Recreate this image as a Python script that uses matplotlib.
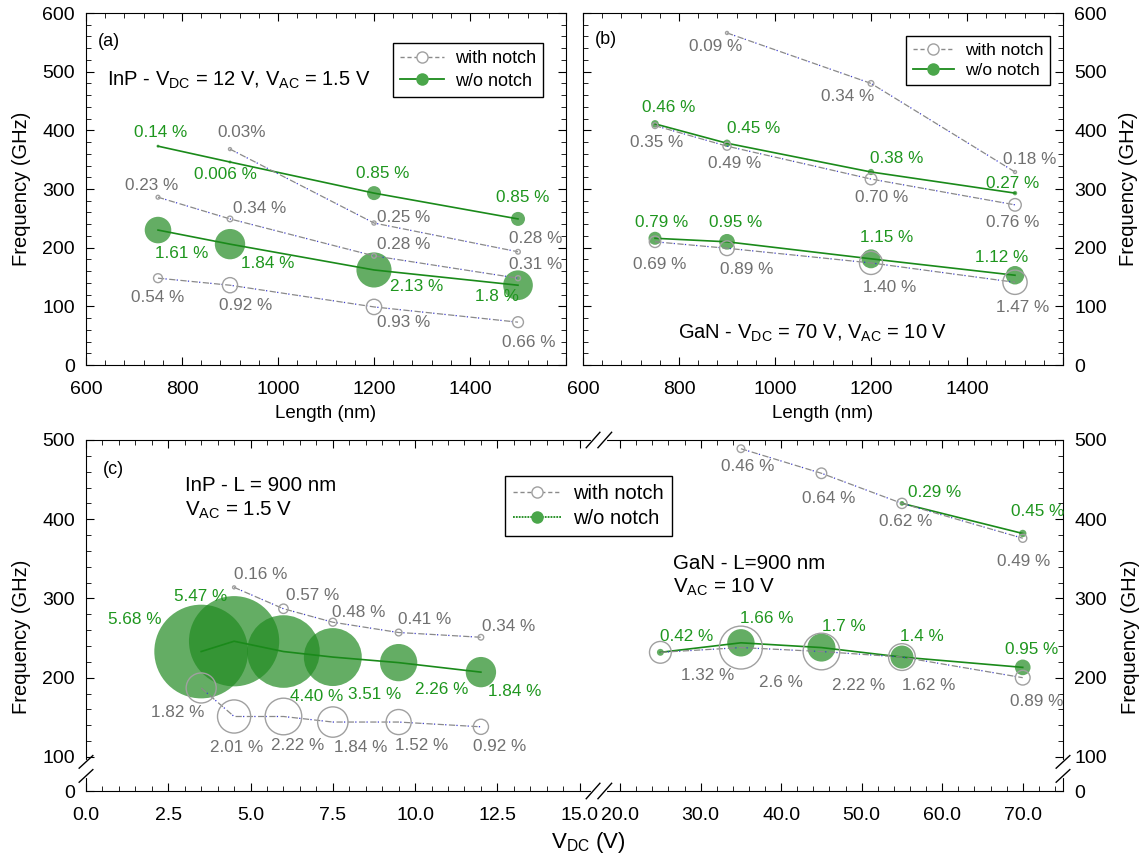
import numpy as np
import matplotlib
matplotlib.use("Agg")
import matplotlib.pyplot as plt
from matplotlib.lines import Line2D

plt.rcParams['font.family'] = 'Liberation Sans'
plt.rcParams['mathtext.fontset'] = 'custom'
plt.rcParams['mathtext.rm'] = 'Liberation Sans'
plt.rcParams['mathtext.it'] = 'Liberation Sans:italic'
plt.rcParams['mathtext.bf'] = 'Liberation Sans:bold'

# =====================================================
# Data: (a) InP, V_DC = 12 V, V_AC = 1.5 V
# =====================================================
a_n1_len = [900, 1200, 1500]
a_n1_f = [368, 242, 193]
a_n1_lbl = ["0.03%", "0.25 %", "0.28 %"]
a_n2_len = [750, 900, 1200, 1500]
a_n2_f = [286, 249, 186, 148]
a_n2_lbl = ["0.23 %", "0.34 %", "0.28 %", "0.31 %"]
a_n3_len = [750, 900, 1200, 1500]
a_n3_f = [148, 136, 99, 73]
a_n3_lbl = ["0.54 %", "0.92 %", "0.93 %", "0.66 %"]
a_p1_len = [750, 900, 1200, 1500]
a_p1_f = [373, 346, 293, 249]
a_p1_lbl = ["0.14 %", "0.006 %", "0.85 %", "0.85 %"]
a_p2_len = [750, 900, 1200, 1500]
a_p2_f = [230, 206, 162, 136]
a_p2_lbl = ["1.61 %", "1.84 %", "2.13 %", "1.8 %"]

# =====================================================
# Data: (b) GaN, V_DC = 70 V, V_AC = 10 V
# =====================================================
b_n1_len = [900, 1200, 1500]
b_n1_f = [566, 480, 329]
b_n1_lbl = ["0.09 %", "0.34 %", "0.18 %"]
b_n2_len = [750, 900, 1200, 1500]
b_n2_f = [408, 373, 317, 273]
b_n2_lbl = ["0.35 %", "0.49 %", "0.70 %", "0.76 %"]
b_n3_len = [750, 900, 1200, 1500]
b_n3_f = [210, 199, 174, 141]
b_n3_lbl = ["0.69 %", "0.89 %", "1.40 %", "1.47 %"]
b_p1_len = [750, 900, 1200, 1500]
b_p1_f = [411, 378, 329, 293]
b_p1_lbl = ["0.46 %", "0.45 %", "0.38 %", "0.27 %"]
b_p2_len = [750, 900, 1200, 1500]
b_p2_f = [216, 210, 181, 153]
b_p2_lbl = ["0.79 %", "0.95 %", "1.15 %", "1.12 %"]

# =====================================================
# Data: (c) frequency vs V_DC
# =====================================================
c_inp_n1_v = [4.5, 6, 7.5, 9.5, 12]
c_inp_n1_f = [314, 287, 270, 257, 251]
c_inp_n1_lbl = ["0.16 %", "0.57 %", "0.48 %", "0.41 %", "0.34 %"]
c_inp_n2_v = [3.5, 4.5, 6, 7.5, 9.5, 12]
c_inp_n2_f = [187, 151, 151, 144, 144, 138]
c_inp_n2_lbl = ["1.82 %", "2.01 %", "2.22 %", "1.84 %", "1.52 %", "0.92 %"]
c_inp_p_v = [3.5, 4.5, 6, 7.5, 9.5, 12]
c_inp_p_f = [233, 246, 233, 226, 219, 207]
c_inp_p_lbl = ["5.68 %", "5.47 %", "4.40 %", "3.51 %", "2.26 %", "1.84 %"]

c_gan_n1_v = [35, 45, 55, 70]
c_gan_n1_f = [489, 458, 420, 376]
c_gan_n1_lbl = ["0.46 %", "0.64 %", "0.62 %", "0.49 %"]
c_gan_p1_v = [55, 70]
c_gan_p1_f = [420, 382]
c_gan_p1_lbl = ["0.29 %", "0.45 %"]
c_gan_n2_v = [25, 35, 45, 55, 70]
c_gan_n2_f = [232, 238, 233, 226, 200]
c_gan_n2_lbl = ["1.32 %", "2.6 %", "2.22 %", "1.62 %", "0.89 %"]
c_gan_p2_v = [25, 35, 45, 55, 70]
c_gan_p2_f = [232, 244, 238, 226, 213]
c_gan_p2_lbl = ["0.42 %", "1.66 %", "1.7 %", "1.4 %", "0.95 %"]

# =====================================================
# Label placement (pixel offsets: right, down)
# =====================================================
a_n1_off = [(12, -17), (30, -6), (18, -13)]
a_n2_off = [(-6, -12), (30, -10), (30, -11), (18, -14)]
a_n3_off = [(0, 19), (16, 20), (30, 16), (11, 20)]
a_p1_off = [(3, -14), (-5, 12), (9, -20), (5, -21)]
a_p2_off = [(24, 23), (38, 19), (43, 17), (-21, 11)]
b_n1_off = [(-11, 14), (-23, 13), (15, -12)]
b_n2_off = [(2, 17), (8, 17), (11, 18), (-2, 18)]
b_n3_off = [(5, 23), (20, 21), (19, 25), (8, 25)]
b_p1_off = [(14, -16), (27, -15), (26, -13), (-2, -10)]
b_p2_off = [(7, -16), (9, -19), (16, -21), (-13, -18)]
c_inp_n1_off = [(27, -13), (29, -13), (26, -10), (26, -13), (28, -11)]
c_inp_n2_off = [(-23, 25), (3, 31), (14, 29), (28, 25), (23, 23), (19, 20)]
c_inp_p_off = [(-66, -32), (-33, -45), (33, 45), (42, 37), (43, 27), (34, 19)]
c_gan_n1_off = [(7, 18), (7, 25), (4, 18), (1, 23)]
c_gan_p1_off = [(33, -11), (15, -22)]
c_gan_n2_off = [(47, 23), (40, 35), (37, 34), (27, 28), (14, 24)]
c_gan_p2_off = [(26, -16), (26, -24), (22, -21), (20, -21), (9, -18)]

# =====================================================
# Styles
# =====================================================
GREEN = '#228b22'
GREEN_LN = '#1a8a1a'
GREEN_TXT = '#1e961e'
GRAY_TXT = '#707070'
GRAY_LN = '#8a8a8a'
GRAY_MK = '#a0a0a0'
BLUE_DOT = '#3a3ad0'
LBL_FS = 12.3


def pct_of(lbl):
    return float(lbl.replace('%', '').strip())


def size_of(lbl):
    # marker diameter scales with the percentage (px -> pt at 100 dpi)
    d = max(16.5 * pct_of(lbl), 3.0) * 0.72
    return d ** 2


def draw_notch(ax, x, f, lbls, offs):
    ax.plot(x, f, color=GRAY_LN, lw=0.9, ls=(0, (5, 4)), zorder=3)
    ax.plot(x, f, color=BLUE_DOT, lw=0.9, ls=(3, (1, 8)), zorder=3)
    ax.scatter(x, f, s=[size_of(l) for l in lbls], facecolors='none',
               edgecolors=GRAY_MK, linewidths=1.0, zorder=4)
    for xi, fi, l, (dx, dy) in zip(x, f, lbls, offs):
        ax.annotate(l, (xi, fi), xytext=(dx, -dy), textcoords='offset pixels',
                    ha='center', va='center', color=GRAY_TXT, fontsize=LBL_FS,
                    zorder=6)


def draw_plain(ax, x, f, lbls, offs):
    ax.scatter(x, f, s=[size_of(l) for l in lbls], color=GREEN, alpha=0.7,
               edgecolors='none', zorder=2)
    ax.plot(x, f, color=GREEN_LN, lw=1.2, zorder=3)
    for xi, fi, l, (dx, dy) in zip(x, f, lbls, offs):
        ax.annotate(l, (xi, fi), xytext=(dx, -dy), textcoords='offset pixels',
                    ha='center', va='center', color=GREEN_TXT, fontsize=LBL_FS,
                    zorder=6)


def add_legend(ax, anchor, fs, dotted=False):
    h1 = Line2D([], [], color=GRAY_LN, lw=1.0, ls=(0, (3, 2)), marker='o',
                markersize=8, markerfacecolor='white', markeredgecolor=GRAY_MK)
    h2 = Line2D([], [], color=GREEN_LN, lw=1.3,
                ls=(0, (1, 0.6)) if dotted else '-', marker='o',
                markersize=9, markerfacecolor='#4aa64a', markeredgecolor='none')
    leg = ax.legend([h1, h2], ['with notch', 'w/o notch'], loc='upper right',
                    bbox_to_anchor=anchor, fontsize=fs, frameon=True,
                    fancybox=False, edgecolor='black', framealpha=1,
                    handlelength=2.4, handletextpad=0.6, labelspacing=0.3,
                    borderpad=0.4, borderaxespad=0)
    leg.get_frame().set_linewidth(1.0)
    leg.set_zorder(8)


# =====================================================
# Figure
# =====================================================
W, H = 1145, 859
fig = plt.figure(figsize=(W / 100, H / 100), dpi=100)
ax_a = fig.add_axes([86 / W, 1 - 365 / H, 480 / W, 352 / H])
ax_b = fig.add_axes([583 / W, 1 - 365 / H, 480 / W, 352 / H])
ax_c = fig.add_axes([86 / W, 1 - 791 / H, 977 / W, 351 / H])

for ax in (ax_a, ax_b):
    ax.set_xlim(600, 1600)
    ax.set_ylim(0, 600)
    ax.set_xticks(np.arange(600, 1601, 200))
    ax.set_xticks(np.arange(600, 1601, 40), minor=True)
    ax.set_xticklabels(['600', '800', '1000', '1200', '1400', ''])
    ax.set_yticks(np.arange(0, 601, 100))
    ax.set_yticks(np.arange(0, 601, 20), minor=True)
    ax.tick_params(which='both', direction='in', top=True, right=True,
                   labelsize=14, pad=8)
    ax.tick_params(axis='x', which='major', pad=11.5)
    ax.tick_params(which='major', length=6)
    ax.tick_params(which='minor', length=3.5)
    ax.set_xlabel('Length (nm)', fontsize=13.5, labelpad=5)
    ax.set_ylabel('Frequency (GHz)', fontsize=14.5)

ax_a.yaxis.set_label_coords(-0.115, 0.5)
ax_b.tick_params(labelleft=False, labelright=True)
ax_b.yaxis.set_label_position('right')
ax_b.yaxis.set_label_coords(1.117, 0.5)

# panel (a)
draw_plain(ax_a, a_p1_len, a_p1_f, a_p1_lbl, a_p1_off)
draw_plain(ax_a, a_p2_len, a_p2_f, a_p2_lbl, a_p2_off)
draw_notch(ax_a, a_n1_len, a_n1_f, a_n1_lbl, a_n1_off)
draw_notch(ax_a, a_n2_len, a_n2_f, a_n2_lbl, a_n2_off)
draw_notch(ax_a, a_n3_len, a_n3_f, a_n3_lbl, a_n3_off)
ax_a.text(0.025, 0.918, '(a)', transform=ax_a.transAxes, fontsize=13,
          va='center', ha='left')
ax_a.text(0.044, 0.81, r'InP - V$_{\mathrm{DC}}$ = 12 V, V$_{\mathrm{AC}}$ = 1.5 V',
          transform=ax_a.transAxes, fontsize=14.5, va='center', ha='left')
add_legend(ax_a, (0.952, 0.915), 13)

# panel (b)
draw_plain(ax_b, b_p1_len, b_p1_f, b_p1_lbl, b_p1_off)
draw_plain(ax_b, b_p2_len, b_p2_f, b_p2_lbl, b_p2_off)
draw_notch(ax_b, b_n1_len, b_n1_f, b_n1_lbl, b_n1_off)
draw_notch(ax_b, b_n2_len, b_n2_f, b_n2_lbl, b_n2_off)
draw_notch(ax_b, b_n3_len, b_n3_f, b_n3_lbl, b_n3_off)
ax_b.text(0.025, 0.925, '(b)', transform=ax_b.transAxes, fontsize=13,
          va='center', ha='left')
ax_b.text(0.479, 0.091, r'GaN - V$_{\mathrm{DC}}$ = 70 V, V$_{\mathrm{AC}}$ = 10 V',
          transform=ax_b.transAxes, fontsize=14.5, va='center', ha='center')
add_legend(ax_b, (0.973, 0.935), 12.5)


# =====================================================
# Panel (c) with broken axes (piecewise scales)
# =====================================================
def fx(x):
    x = np.asarray(x, dtype=float)
    return np.where(x <= 15.4, 32.9 * x,
                    np.where(x < 18.14, 506.7 + (x - 15.4) * (12.3 / 2.74),
                             519.0 + (x - 18.14) * 8.05))


def fx_inv(u):
    u = np.asarray(u, dtype=float)
    return np.where(u <= 506.7, u / 32.9,
                    np.where(u < 519.0, 15.4 + (u - 506.7) * (2.74 / 12.3),
                             18.14 + (u - 519.0) / 8.05))


def fy(y):
    y = np.asarray(y, dtype=float)
    return np.where(y < 100, 0.34 * y, 34 + (y - 100) * 0.79)


def fy_inv(u):
    u = np.asarray(u, dtype=float)
    return np.where(u < 34, u / 0.34, 100 + (u - 34) / 0.79)


ax_c.set_xscale('function', functions=(fx, fx_inv))
ax_c.set_yscale('function', functions=(fy, fy_inv))
ax_c.set_xlim(0, 75)
ax_c.set_ylim(0, 500)
c_xt = [0, 2.5, 5, 7.5, 10, 12.5, 15, 20, 30, 40, 50, 60, 70]
ax_c.set_xticks(c_xt)
ax_c.set_xticklabels([f"{v:.1f}" for v in c_xt])
ax_c.set_xticks(list(np.arange(0, 15.01, 0.5)) + list(np.arange(20, 75, 2)),
                minor=True)
ax_c.set_yticks([0, 100, 200, 300, 400, 500])
ax_c.set_yticks(np.arange(100, 500, 20), minor=True)
ax_c.tick_params(which='both', direction='in', top=True, right=True,
                 labelright=True, labelsize=14, pad=8)
ax_c.tick_params(axis='x', which='major', pad=11.5)
ax_c.tick_params(which='major', length=6)
ax_c.tick_params(which='minor', length=3.5)
ax_c.set_xlabel(r'V$_{\mathrm{DC}}$ (V)', fontsize=16)
ax_c.xaxis.set_label_coords(0.514, -0.11)
ax_c.set_ylabel('Frequency (GHz)', fontsize=14.5)
ax_c.yaxis.set_label_coords(-0.056, 0.44)
ax_c.text(1.0686, 0.44, 'Frequency (GHz)', transform=ax_c.transAxes,
          rotation=90, fontsize=14.5, va='center', ha='center')

draw_plain(ax_c, c_inp_p_v, c_inp_p_f, c_inp_p_lbl, c_inp_p_off)
draw_notch(ax_c, c_inp_n1_v, c_inp_n1_f, c_inp_n1_lbl, c_inp_n1_off)
draw_notch(ax_c, c_inp_n2_v, c_inp_n2_f, c_inp_n2_lbl, c_inp_n2_off)
draw_plain(ax_c, c_gan_p2_v, c_gan_p2_f, c_gan_p2_lbl, c_gan_p2_off)
draw_plain(ax_c, c_gan_p1_v, c_gan_p1_f, c_gan_p1_lbl, c_gan_p1_off)
draw_notch(ax_c, c_gan_n1_v, c_gan_n1_f, c_gan_n1_lbl, c_gan_n1_off)
draw_notch(ax_c, c_gan_n2_v, c_gan_n2_f, c_gan_n2_lbl, c_gan_n2_off)

ax_c.text(0.017, 0.915, '(c)', transform=ax_c.transAxes, fontsize=13,
          va='center', ha='left')
ax_c.text(0.101, 0.87, 'InP - L = 900 nm', transform=ax_c.transAxes,
          fontsize=14.8, va='center', ha='left')
ax_c.text(0.101, 0.80, r'V$_{\mathrm{AC}}$ = 1.5 V', transform=ax_c.transAxes,
          fontsize=14.8, va='center', ha='left')
ax_c.text(0.601, 0.648, 'GaN - L=900 nm', transform=ax_c.transAxes,
          fontsize=14.8, va='center', ha='left')
ax_c.text(0.601, 0.58, r'V$_{\mathrm{AC}}$ = 10 V', transform=ax_c.transAxes,
          fontsize=14.8, va='center', ha='left')
add_legend(ax_c, (0.600, 0.897), 14.5, dotted=True)

# break marks on x (top and bottom) and y (left and right)
bx0, bx1 = 0.519, 0.531
for yy in (0, 1):
    ax_c.plot([bx0, bx1], [yy, yy], transform=ax_c.transAxes, color='white',
              lw=3, clip_on=False, zorder=10)
    for xx in (bx0, bx1):
        ax_c.plot([xx - 0.007, xx + 0.007], [yy - 0.022, yy + 0.022],
                  transform=ax_c.transAxes, color='black', lw=1,
                  clip_on=False, zorder=11)
by0, by1 = 0.043, 0.083
for xx in (0, 1):
    ax_c.plot([xx, xx], [by0, by1], transform=ax_c.transAxes, color='white',
              lw=3, clip_on=False, zorder=10)
    for yy in (by0, by1):
        ax_c.plot([xx - 0.007, xx + 0.007], [yy - 0.018, yy + 0.018],
                  transform=ax_c.transAxes, color='black', lw=1,
                  clip_on=False, zorder=11)

plt.savefig("out.png", dpi=100)
